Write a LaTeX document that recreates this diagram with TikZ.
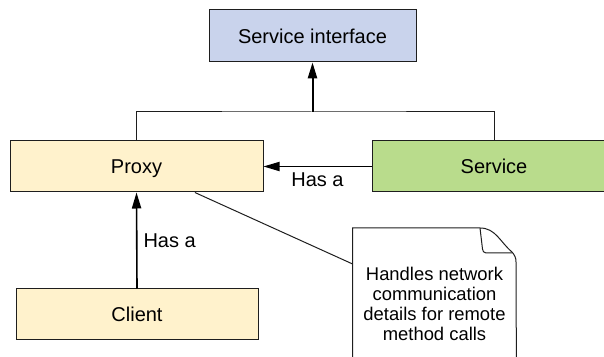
\documentclass[tikz,border=0pt]{standalone}
\usepackage{fontspec}
\setmainfont{Liberation Sans}
\usetikzlibrary{arrows.meta,positioning}
\definecolor{ifacefill}{RGB}{201,211,236}
\definecolor{proxyfill}{RGB}{255,242,204}
\definecolor{servfill}{RGB}{185,220,140}
\definecolor{edge}{RGB}{30,30,30}

\begin{document}
\begin{tikzpicture}[x=0.5pt,y=-0.5pt,every node/.style={font=\fontsize{10}{12}\selectfont,align=center,inner sep=1pt},
  box/.style={draw=edge,line width=0.5pt,minimum height=#1,text height=7.2pt,text depth=0pt},box/.default=25.5pt,
  >={Triangle[length=8pt,width=4.6pt]}]
\useasboundingbox (0,0) rectangle (604,357);
\node[box=26pt,fill=ifacefill,minimum width=103.5pt] (iface) at (312.5,36) {Service interface};
\node[box,fill=proxyfill,minimum width=126.5pt] (proxy) at (136.5,166.5) {Proxy};
\node[box,fill=servfill,minimum width=122pt] (service) at (494,166.5) {Service};
\node[box=25pt,fill=proxyfill,minimum width=121pt] (client) at (137,314) {Client};
\node[minimum width=81.5pt,minimum height=75pt,font=\fontsize{9.2}{10}\selectfont] (note) at (434.5,304)
  {Handles network\\communication\\details for remote\\method calls};
% folded note outline
\draw[edge,line width=0.5pt] ([yshift=4pt]note.south west) |- (note.west |- 0,228) -- (480,228)
  to[out=0,in=140] (512,252) to[out=-50,in=90] (516,262) -- ([yshift=4pt]note.south east);
\draw[edge,line width=0.5pt] (480,228) -- (482.5,249) to[out=-90,in=180] (486,253) -- (512,253);
\coordinate (bus) at (312.5,112);
\draw[edge,line width=0.5pt] (proxy.north) |- (bus) -| (service.north);
\draw[->,line width=1pt] (bus) -- (iface.south);
\draw[->,line width=0.6pt] (service.west) -- node[below=2pt] {Has a} (proxy.east);
\draw[->,line width=0.8pt] (client.north) -- node[right=2pt] {Has a} (proxy.south);
\draw[edge,line width=0.5pt] (proxy.-24.3) -- (note.west |- 0,264);
\end{tikzpicture}
\end{document}
